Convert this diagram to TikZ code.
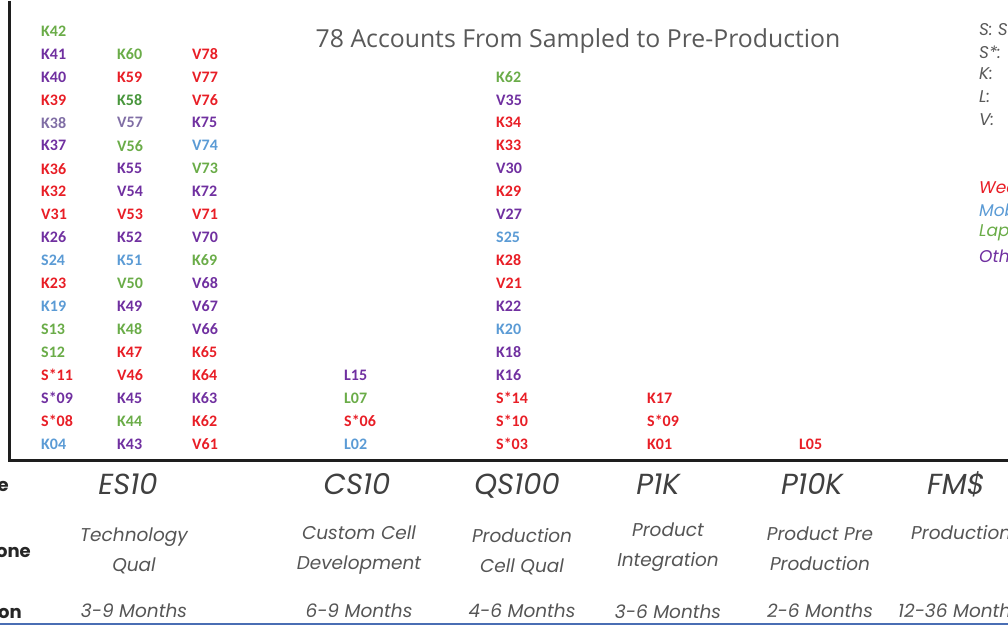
\documentclass[tikz,border=0pt]{standalone}
\usepackage{fontspec}
\setmainfont{Carlito}
\newfontfamily\lab{Carlito}
\newfontfamily\titlefont{Open Sans}
\newfontfamily\mfont{Poppins}
\definecolor{cr}{RGB}{232,30,38}
\definecolor{cp}{RGB}{112,48,160}
\definecolor{cb}{RGB}{91,155,213}
\definecolor{cg}{RGB}{106,172,72}
\definecolor{cgd}{RGB}{72,150,60}
\definecolor{cl}{RGB}{128,110,165}
\definecolor{tgray}{RGB}{89,89,89}
\definecolor{sgray}{RGB}{64,64,64}
\definecolor{mgray}{RGB}{85,85,85}
\definecolor{axis}{RGB}{30,30,30}
\definecolor{bline}{RGB}{74,110,180}
\tikzset{
  lbl/.style={font=\lab\bfseries\fontsize{16}{18}\selectfont, anchor=west, inner sep=0pt},
  stagelbl/.style={font=\mfont\itshape\fontsize{29}{32}\selectfont, text=sgray, inner sep=0pt, anchor=base},
  milelbl/.style={font=\mfont\itshape\fontsize{18.5}{30}\selectfont, text=mgray, align=center, inner sep=0pt},
  durlbl/.style={font=\mfont\itshape\fontsize{18.5}{20}\selectfont, text=mgray, inner sep=0pt},
  rowlbl/.style={font=\mfont\bfseries\fontsize{18}{20}\selectfont, text=black!85, anchor=east, inner sep=0pt},
  leglbl/.style={font=\mfont\itshape\fontsize{17}{20}\selectfont, anchor=west, inner sep=0pt},
}
\begin{document}
\begin{tikzpicture}[x=1pt,y=-1pt]
\useasboundingbox (0,0) rectangle (1008,626);
\clip (0,0) rectangle (1008,626);
% title
\node[font=\titlefont\fontsize{24.8}{28}\selectfont, text=tgray, inner sep=0pt] (title) at (578,41) {78 Accounts From Sampled to Pre-Production};
% columns of accounts
\foreach \t/\c [count=\i from 0] in {K42/cg, K41/cp, K40/cp, K39/cr, K38/cl, K37/cp, K36/cr, K32/cr, V31/cr, K26/cp, S24/cb, K23/cr, K19/cb, S13/cg, S12/cg, S*11/cr, S*09/cp, S*08/cr, K04/cb}
  \node[lbl, text=\c] (a\i) at (41,{31+22.94*\i}) {\t};
\foreach \t/\c [count=\i from 1] in {K60/cg, K59/cr, K58/cgd, V57/cl, V56/cg, K55/cp, V54/cp, V53/cr, K52/cp, K51/cb, V50/cg, K49/cp, K48/cg, K47/cr, V46/cr, K45/cp, K44/cg, K43/cp}
  \node[lbl, text=\c] (b\i) at (117,{31+22.94*\i}) {\t};
\foreach \t/\c [count=\i from 1] in {V78/cr, V77/cr, V76/cr, K75/cp, V74/cb, V73/cg, K72/cp, V71/cr, V70/cp, K69/cg, V68/cp, V67/cp, V66/cp, K65/cr, K64/cr, K63/cp, K62/cr, V61/cr}
  \node[lbl, text=\c] (c\i) at (192,{31+22.94*\i}) {\t};
\foreach \t/\c [count=\i from 15] in {L15/cp, L07/cg, S*06/cr, L02/cb}
  \node[lbl, text=\c] (d\i) at (344,{31+22.94*\i}) {\t};
\foreach \t/\c [count=\i from 2] in {K62/cg, V35/cp, K34/cr, K33/cr, V30/cp, K29/cr, V27/cp, S25/cb, K28/cr, V21/cr, K22/cp, K20/cb, K18/cp, K16/cp, S*14/cr, S*10/cr, S*03/cr}
  \node[lbl, text=\c] (e\i) at (496,{31+22.94*\i}) {\t};
\foreach \t/\c [count=\i from 16] in {K17/cr, S*09/cr, K01/cr}
  \node[lbl, text=\c] (f\i) at (647,{31+22.94*\i}) {\t};
\node[lbl, text=cr] (g18) at (799,{31+22.94*18}) {L05};
% axes
\coordinate (axtop) at (9,1);
\coordinate (axcorner) at (9,460);
\coordinate (axright) at (1010,460);
\draw[line width=3pt, axis] (axtop) -- (axcorner) -- (axright);
% legend
\node[leglbl, text=tgray] (l1) at (979,30) {S: S};
\node[leglbl, text=tgray] (l2) at (979,52) {S*: };
\node[leglbl, text=tgray] (l3) at (979,74) {K:};
\node[leglbl, text=tgray] (l4) at (979,97) {L:};
\node[leglbl, text=tgray] (l5) at (979,120) {V:};
\node[leglbl, text=cr] (l6) at (979,187) {Wearables};
\node[leglbl, text=cb] (l7) at (979,210) {Mobile};
\node[leglbl, text=cg] (l8) at (979,233) {Laptop};
\node[leglbl, text=cp] (l9) at (979,256) {Other};
% row labels
\node[rowlbl] (rstage) at (9,488) {Stage};
\node[rowlbl] (rmile) at (31,550) {Milestone};
\node[rowlbl] (rdur) at (22,611) {Duration};
% stages
\node[stagelbl] (s1) at (128,494) {ES10};
\node[stagelbl] (s2) at (357,494) {CS10};
\node[stagelbl] (s3) at (517,494) {QS100};
\node[stagelbl] (s4) at (658,494) {P1K};
\node[stagelbl] (s5) at (812,494) {P10K};
\node[stagelbl] (s6) at (956,494) {FM\$};
% milestones
\node[milelbl] (m1) at (134,551) {Technology\\Qual};
\node[milelbl] (m2) at (359,550) {Custom Cell\\Development};
\node[milelbl] (m3) at (522,552) {Production\\Cell Qual};
\node[milelbl] (m4) at (668,547) {Product\\Integration};
\node[milelbl] (m5) at (820,549) {Product Pre\\Production};
\node[milelbl, anchor=west] (m6) at (911,533) {Production};
% durations
\node[durlbl] (t1) at (134,611) {3-9 Months};
\node[durlbl] (t2) at (359,611) {6-9 Months};
\node[durlbl] (t3) at (522,611) {4-6 Months};
\node[durlbl] (t4) at (668,612) {3-6 Months};
\node[durlbl] (t5) at (820,611) {2-6 Months};
\node[durlbl, anchor=west] (t6) at (898,611) {12-36 Months};
% bottom line
\coordinate (bl) at (0,624);
\coordinate (br) at (1008,624);
\draw[line width=1.5pt, bline] (bl) -- (br);
\end{tikzpicture}
\end{document}
